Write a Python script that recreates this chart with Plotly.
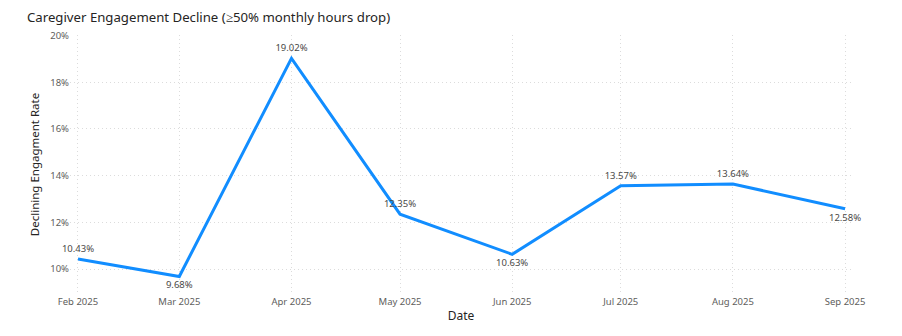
import plotly.graph_objects as go

# Monthly share of caregivers whose hours dropped by 50% or more
months = ["2025-02-01", "2025-03-01", "2025-04-01", "2025-05-01",
          "2025-06-01", "2025-07-01", "2025-08-01", "2025-09-01"]
rates = [10.43, 9.68, 19.02, 12.35, 10.63, 13.57, 13.64, 12.58]
label_pos = ["top center", "bottom center", "top center", "top center",
             "bottom center", "top center", "top center", "bottom center"]
y_ticks = [10, 12, 14, 16, 18, 20]
y_tick_text = ["10%", "12%", "14%", "16%", "18%", "20%"]
tick_months = months
tick_text = ["Feb 2025", "Mar 2025", "Apr 2025", "May 2025",
             "Jun 2025", "Jul 2025", "Aug 2025", "Sep 2025"]

FONT = "Noto Sans"
GRID = "#DCDCDC"
TEXT_GREY = "#605E5C"
DARK = "#252423"

fig = go.Figure(
    go.Scatter(
        x=months,
        y=rates,
        mode="lines+markers+text",
        line=dict(color="#118DFF", width=3),
        # invisible markers push the value labels away from the line
        marker=dict(size=6, color="rgba(0,0,0,0)"),
        text=[f"{v:.2f}%" for v in rates],
        textposition=label_pos,
        textfont=dict(family=FONT, size=9.5, color="#4A4947"),
        cliponaxis=False,
        hoverinfo="skip",
    )
)

fig.update_layout(
    width=902,
    height=336,
    paper_bgcolor="white",
    plot_bgcolor="white",
    margin=dict(l=70, r=50, t=35, b=42),
    showlegend=False,
    title=dict(
        text="Caregiver Engagement Decline (≥50% monthly hours drop)",
        font=dict(family=FONT, size=13.2, color=DARK),
        xref="container", yref="container",
        x=27 / 902, xanchor="left",
        y=1 - 17 / 336, yanchor="middle",
        pad=dict(l=0, t=0, b=0, r=0),
    ),
)

fig.update_xaxes(
    type="date",
    range=["2025-01-29 19:00", "2025-09-02 22:00"],
    tickvals=tick_months,
    ticktext=tick_text,
    tickfont=dict(family=FONT, size=9.5, color=TEXT_GREY),
    showgrid=True, gridcolor=GRID, griddash="1px,3px", gridwidth=1,
    zeroline=False, showline=False, ticks="",
    title=dict(text="Date", font=dict(family=FONT, size=12, color=DARK), standoff=5),
)

fig.update_yaxes(
    range=[8.93, 20.02],
    tickvals=y_ticks,
    ticktext=y_tick_text,
    tickfont=dict(family=FONT, size=9.5, color=TEXT_GREY),
    showgrid=True, gridcolor=GRID, griddash="1px,3px", gridwidth=1,
    zeroline=False, showline=False, ticks="",
    title=dict(text="Declining Engagment Rate",
               font=dict(family=FONT, size=11.5, color=DARK), standoff=8),
)

fig.write_html("out.html")
